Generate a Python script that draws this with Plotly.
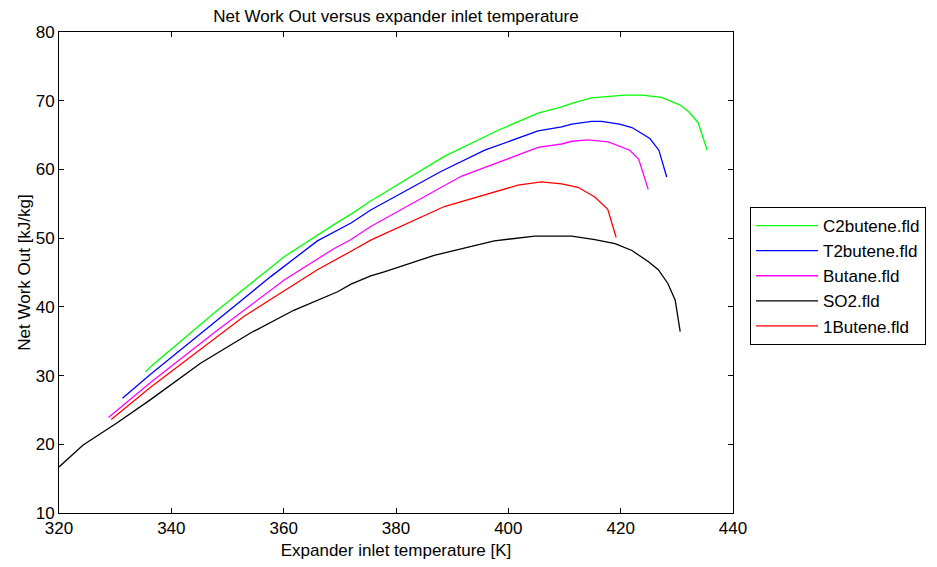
import plotly.graph_objects as go

c2_x = [335.4, 336.3, 348.2, 360.1, 369.0, 372.0, 375.5, 388.6, 398.2, 405.3, 409.5, 411.3, 414.8, 420.7, 423.8, 427.3, 430.5, 432.1, 433.8, 435.4]
c2_y = [30.5, 31.3, 39.5, 47.3, 52.0, 53.5, 55.4, 61.9, 65.7, 68.2, 69.1, 69.6, 70.4, 70.8, 70.8, 70.5, 69.4, 68.4, 66.8, 62.8]

t2_x = [331.3, 336.3, 348.2, 357.7, 366.0, 372.0, 375.5, 388.0, 395.8, 405.3, 409.5, 411.3, 414.8, 416.6, 419.8, 422.0, 423.4, 425.2, 426.8, 428.2]
t2_y = [26.7, 30.2, 38.1, 44.4, 49.6, 52.2, 54.1, 59.7, 62.8, 65.6, 66.2, 66.6, 67.0, 67.0, 66.6, 66.1, 65.4, 64.5, 62.8, 58.9]

bu_x = [328.8, 336.3, 348.2, 360.1, 369.0, 372.0, 375.5, 391.6, 405.3, 409.5, 411.3, 414.2, 417.8, 421.6, 423.2, 424.9]
bu_y = [23.9, 29.0, 36.6, 43.9, 48.5, 49.8, 51.7, 59.0, 63.2, 63.7, 64.1, 64.3, 64.0, 62.8, 61.5, 57.1]

so2_x = [320.0, 324.3, 330.3, 336.3, 345.2, 354.1, 361.8, 369.6, 372.0, 375.5, 377.9, 386.8, 397.5, 404.7, 409.5, 411.3, 415.4, 419.0, 422.0, 424.9, 426.7, 428.4, 429.7, 430.6]
so2_y = [16.7, 19.9, 23.1, 26.5, 31.8, 36.2, 39.5, 42.2, 43.3, 44.5, 45.1, 47.5, 49.6, 50.3, 50.3, 50.3, 49.8, 49.2, 48.2, 46.6, 45.4, 43.4, 41.0, 36.4]

b1_x = [329.3, 336.3, 352.9, 366.0, 372.0, 375.5, 388.6, 401.7, 405.9, 409.5, 412.4, 415.4, 417.7, 419.2]
b1_y = [23.6, 28.3, 38.6, 45.4, 48.1, 49.7, 54.6, 57.7, 58.2, 57.9, 57.4, 56.0, 54.2, 50.1]

series = [
    ("C2butene.fld", c2_x, c2_y, "#00ff00"),
    ("T2butene.fld", t2_x, t2_y, "#0000ff"),
    ("Butane.fld", bu_x, bu_y, "#ff00ff"),
    ("SO2.fld", so2_x, so2_y, "#000000"),
    ("1Butene.fld", b1_x, b1_y, "#ff0000"),
]

x_ticks = [320, 340, 360, 380, 400, 420, 440]
y_ticks = [10, 20, 30, 40, 50, 60, 70, 80]

FAM = "Liberation Sans, Arial, sans-serif"
FS = 17

fig = go.Figure()
for name, xs, ys, col in series:
    fig.add_trace(go.Scatter(x=xs, y=ys, mode="lines", name=name,
                             line=dict(color=col, width=1.3)))

font = dict(family=FAM, size=FS, color="black")
axis_common = dict(showgrid=False, zeroline=False, showline=True, linecolor="black",
                   linewidth=1, mirror="allticks", ticks="inside", ticklen=5,
                   tickcolor="black", tickfont=font, automargin=False)

W, H = 929, 559
L, T = 51, 24
PW, PH = 674, 481

fig.update_layout(
    width=W, height=H,
    paper_bgcolor="white", plot_bgcolor="white",
    margin=dict(l=L, r=W - L - PW, t=T, b=H - T - PH, autoexpand=False),
    font=font,
    title=dict(text="Net Work Out versus expander inlet temperature",
               x=(L + PW / 2) / W, xanchor="center", y=1 - 2 / H, yanchor="top",
               pad=dict(t=0, b=0, l=0, r=0),
               font=dict(family=FAM, size=FS, color="black")),
    xaxis=dict(range=[320, 440], tickvals=x_ticks,
               title=dict(text="Expander inlet temperature [K]", standoff=6,
                          font=dict(family=FAM, size=FS, color="black")), **axis_common),
    yaxis=dict(range=[10, 80], tickvals=y_ticks,
               title=dict(text="Net Work Out [kJ/kg]", standoff=0,
                          font=dict(family=FAM, size=FS, color="black")), **axis_common),
    legend=dict(x=(742 - L) / PW, y=(T + PH - 199) / PH, xanchor="left", yanchor="top",
                bordercolor="black", borderwidth=1, bgcolor="white",
                font=dict(family=FAM, size=FS, color="black"),
                tracegroupgap=0, itemwidth=62),
    showlegend=True,
)

fig.write_html("out.html")
